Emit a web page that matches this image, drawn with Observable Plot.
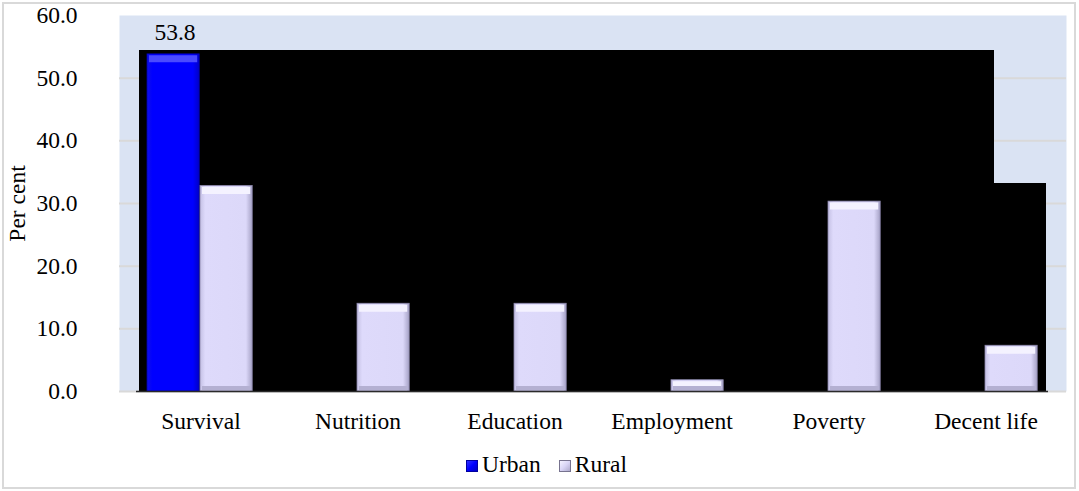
<!DOCTYPE html>
<html><head><meta charset="utf-8">
<script src="https://cdn.jsdelivr.net/npm/d3@7"></script>
<script src="https://cdn.jsdelivr.net/npm/@observablehq/plot@0.6"></script>
<style>
body{margin:0;background:#fff;font-family:"Liberation Serif","Times New Roman",serif;}
#wrap{position:relative;width:1079px;height:491px;overflow:hidden;}
#frame{position:absolute;left:2px;top:2px;width:1074px;height:487px;border:2px solid #d9d9d9;box-sizing:border-box;pointer-events:none;}
#legend{position:absolute;left:466px;top:452px;display:flex;align-items:center;font-size:23.5px;line-height:24px;color:#000;}
.sw{width:12px;height:12px;display:inline-block;box-sizing:border-box;margin-right:4px;margin-top:3px;}
.sw.u{background:linear-gradient(135deg,#3030ff,#0000ff 50%,#0000c0);border:1px solid #0000a0;}
.sw.r{background:linear-gradient(135deg,#f4f2ff,#d9d5f6 50%,#aeaacb);border:1px solid #77738f;}
.item{display:flex;align-items:center;margin-right:18px;}
</style></head><body>
<div id="wrap"><div id="chart"></div><div id="legend"></div><div id="frame"></div></div>
<script>
const categories = ["Survival","Nutrition","Education","Employment","Poverty","Decent life"];
const urban = [53.8, null, null, null, null, null];
const rural = [32.8, 14.0, 14.0, 1.8, 30.3, 7.3];
const seriesNames = ["Urban","Rural"];
const yTicks = [0,10,20,30,40,50,60];
// dark block drawn behind the bars in the source picture
const backdropTop = 54.4;
const backdropStepTop = 33.2;

const data = categories.map((c,i)=>({category:c, urban:urban[i], rural:rural[i]}));
const urbanData = data.filter(d=>d.urban!=null);

const plot = Plot.plot({
  width:1079, height:440,
  marginLeft:119, marginRight:13, marginTop:15, marginBottom:49,
  style:{fontFamily:"Liberation Serif, Times New Roman, serif", fontSize:"23.5px", color:"#000", background:"transparent", overflow:"visible"},
  x:{domain:categories, padding:0, tickSize:0, tickPadding:21, label:null},
  y:{domain:[0,60], ticks:yTicks, tickFormat:d=>d.toFixed(1), tickSize:0, tickPadding:42,
     label:"Per cent", labelAnchor:"center", labelOffset:111, labelArrow:"none"},
  marks:[
    Plot.frame({fill:"#dae3f3", stroke:null}),
    Plot.ruleY(yTicks.filter(d=>d<60), {stroke:"#d9d9d9", strokeWidth:2}),
    Plot.barY([categories[0]], {x:d=>d, y:()=>backdropTop, fill:"#000", insetLeft:17, shapeRendering:"crispEdges"}),
    Plot.barY(categories.slice(1,5), {x:d=>d, y:()=>backdropTop, fill:"#000", shapeRendering:"crispEdges"}),
    Plot.barY([categories[5]], {x:d=>d, y:()=>backdropTop, fill:"#000", insetRight:70, shapeRendering:"crispEdges"}),
    Plot.barY([categories[5]], {x:d=>d, y:()=>backdropStepTop, fill:"#000", insetLeft:87, insetRight:18, shapeRendering:"crispEdges"}),
    Plot.barY(urbanData, {x:"category", y:"urban", fill:"url(#gUrban)", stroke:"#0000b0", strokeWidth:0.8, insetLeft:25, insetRight:79.8}),
    Plot.tickY(urbanData, {x:"category", y:"urban", stroke:"#4a4aff", strokeWidth:7, dy:4.5, insetLeft:27, insetRight:81.8}),
    Plot.barY(data, {x:"category", y:"rural", fill:"url(#gRural)", stroke:"#8a86aa", strokeWidth:0.8, insetLeft:78, insetRight:26.8}),
    Plot.tickY(data, {x:"category", y:"rural", stroke:"#f4f2ff", strokeWidth:7, dy:4.5, insetLeft:80, insetRight:28.8}),
    Plot.tickY(data, {x:"category", y:()=>0, stroke:"#b4b0d2", strokeWidth:5, dy:-3, insetLeft:80, insetRight:28.8}),
    Plot.text(urbanData, {x:"category", y:"urban", text:d=>d.urban.toFixed(1), dx:-26, dy:-14, lineAnchor:"bottom", fill:"#000"}),
    Plot.ruleY([0], {stroke:"#2a2a2a", strokeWidth:1.5, insetLeft:17, insetRight:18})
  ]
});

const ns="http://www.w3.org/2000/svg";
const defs=document.createElementNS(ns,"defs");
defs.innerHTML = `
<linearGradient id="gRural" x1="0" x2="1" y1="0" y2="0">
 <stop offset="0" stop-color="#c4c0e4"/><stop offset="0.1" stop-color="#dedafb"/>
 <stop offset="0.88" stop-color="#dcd8f9"/><stop offset="1" stop-color="#a6a2c6"/>
</linearGradient>
<linearGradient id="gUrban" x1="0" x2="1" y1="0" y2="0">
 <stop offset="0" stop-color="#1010e8"/><stop offset="0.1" stop-color="#0000ff"/>
 <stop offset="0.88" stop-color="#0000ff"/><stop offset="1" stop-color="#0000c8"/>
</linearGradient>`;
plot.insertBefore(defs, plot.firstChild);
document.getElementById("chart").appendChild(plot);

const leg=document.getElementById("legend");
seriesNames.forEach((s,i)=>{
  const it=document.createElement("div"); it.className="item";
  it.innerHTML=`<span class="sw ${i===0?"u":"r"}"></span><span>${s}</span>`;
  leg.appendChild(it);
});
</script>
</body></html>
